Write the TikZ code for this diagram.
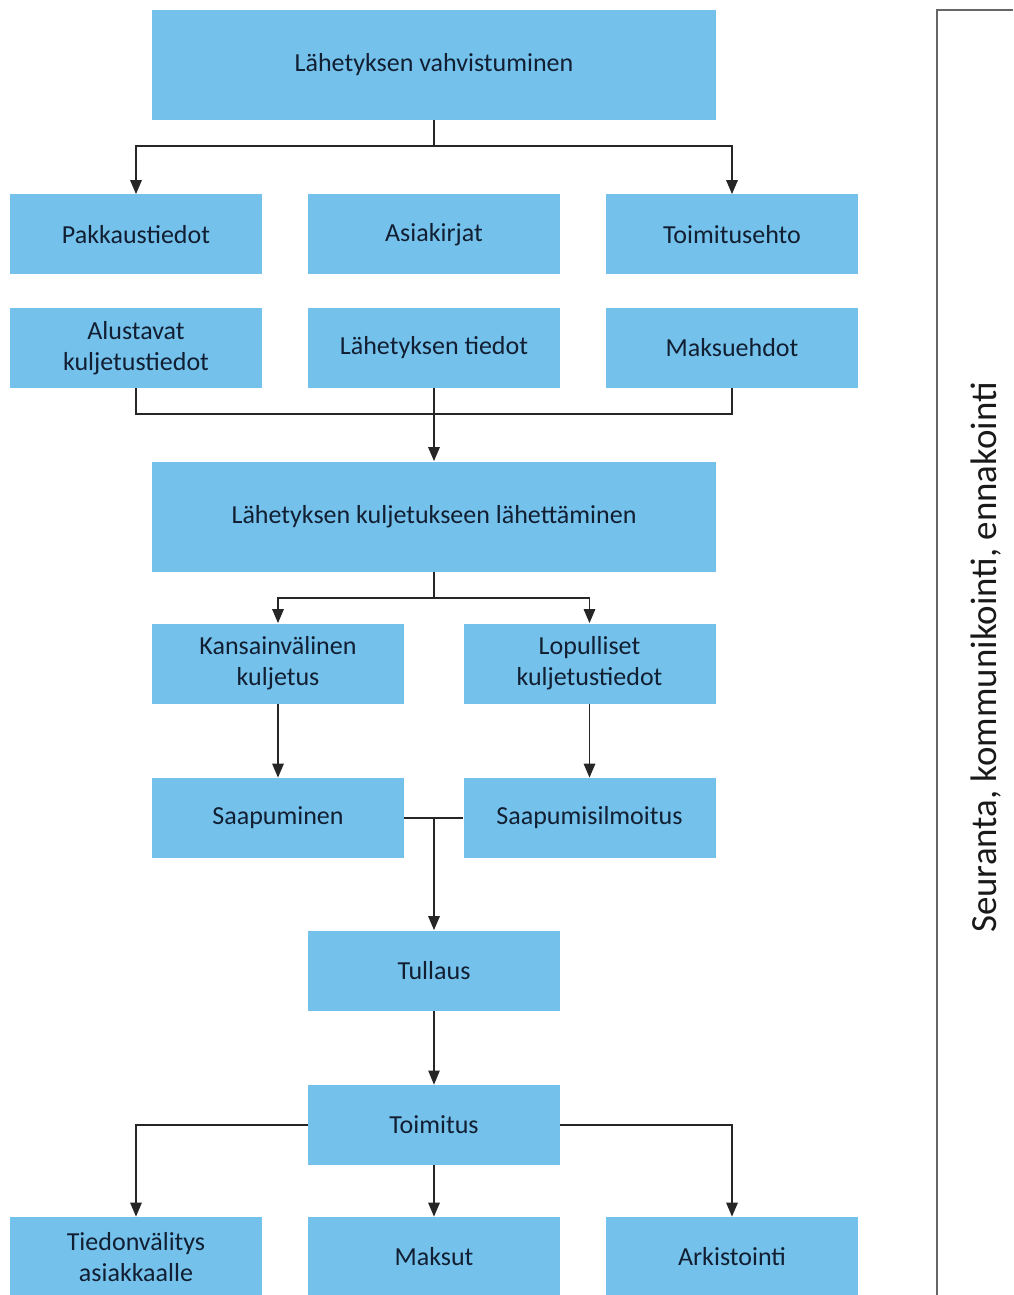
\documentclass[tikz,border=0pt]{standalone}
\usepackage{fontspec}
\setmainfont{Carlito}
\usetikzlibrary{arrows.meta}
\definecolor{boxblue}{RGB}{116,194,235}
\definecolor{boxtext}{RGB}{18,30,50}

\begin{document}
\begin{tikzpicture}[
  box/.style={fill=boxblue,text=boxtext,align=center,inner sep=0pt,
    minimum width=5.04cm,minimum height=1.6cm,font=\fontsize{14.8}{17.5}\selectfont},
  widebox/.style={box,minimum width=11.28cm,minimum height=2.2cm},
  line/.style={draw=black!85,line width=1.1pt},
  arr/.style={line,-{Triangle[width=6.5pt,length=8pt]}}
]
\useasboundingbox (0,0) rectangle (20.26,-25.9);
% boxes
\node [widebox] (vahv) at (8.68,-1.3) {Lähetyksen vahvistuminen};
\node [box] (pakk) at (2.72,-4.69) {Pakkaustiedot};
\node [box] (asia) at (8.68,-4.69) {Asiakirjat};
\node [box] (ehto) at (14.64,-4.69) {Toimitusehto};
\node [box] (alus) at (2.72,-6.96) {Alustavat\\kuljetustiedot};
\node [box] (ltie) at (8.68,-6.96) {Lähetyksen tiedot};
\node [box] (mehd) at (14.64,-6.96) {Maksuehdot};
\node [widebox] (lahe) at (8.68,-10.33) {Lähetyksen kuljetukseen lähettäminen};
\node [box] (kans) at (5.56,-13.27) {Kansainvälinen\\kuljetus};
\node [box] (lopu) at (11.79,-13.27) {Lopulliset\\kuljetustiedot};
\node [box] (saap) at (5.56,-16.36) {Saapuminen};
\node [box] (silm) at (11.79,-16.36) {Saapumisilmoitus};
\node [box] (tull) at (8.68,-19.41) {Tullaus};
\node [box] (toim) at (8.68,-22.5) {Toimitus};
\node [box] (tied) at (2.72,-25.14) {Tiedonvälitys\\asiakkaalle};
\node [box] (maks) at (8.68,-25.14) {Maksut};
\node [box] (arki) at (14.64,-25.14) {Arkistointi};
% connectors
\draw [line] (vahv.south) -- ++(0,-0.52) coordinate (v1);
\draw [arr] (v1) -| (pakk.north);
\draw [arr] (v1) -| (ehto.north);
\draw [line] (alus.south) -- ++(0,-0.52) -| (mehd.south);
\draw [arr] (ltie.south) -- (lahe.north);
\draw [line] (lahe.south) -- ++(0,-0.52) coordinate (k1);
\draw [arr] (k1) -| (kans.north);
\draw [arr] (k1) -| (lopu.north);
\draw [arr] (kans.south) -- (saap.north);
\draw [arr] (lopu.south) -- (silm.north);
\draw [line] (saap.east) -- (silm.west);
\draw [arr] (saap.east -| tull.north) -- (tull.north);
\draw [arr,line width=0.6pt] (tull.south) -- (toim.north);
\draw [arr] (toim.west) -| (tied.north);
\draw [arr] (toim.south) -- (maks.north);
\draw [arr] (toim.east) -| (arki.north);
% side panel
\draw [draw=black!60,line width=1.2pt] (20.26,-0.2) -- (18.74,-0.2) coordinate (p1) -- (18.74,-25.9);
\node [rotate=90,font=\fontsize{21}{25}\selectfont,text=black!90] (seur) at (19.72,-13.15) {Seuranta, kommunikointi, ennakointi};
\end{tikzpicture}
\end{document}
